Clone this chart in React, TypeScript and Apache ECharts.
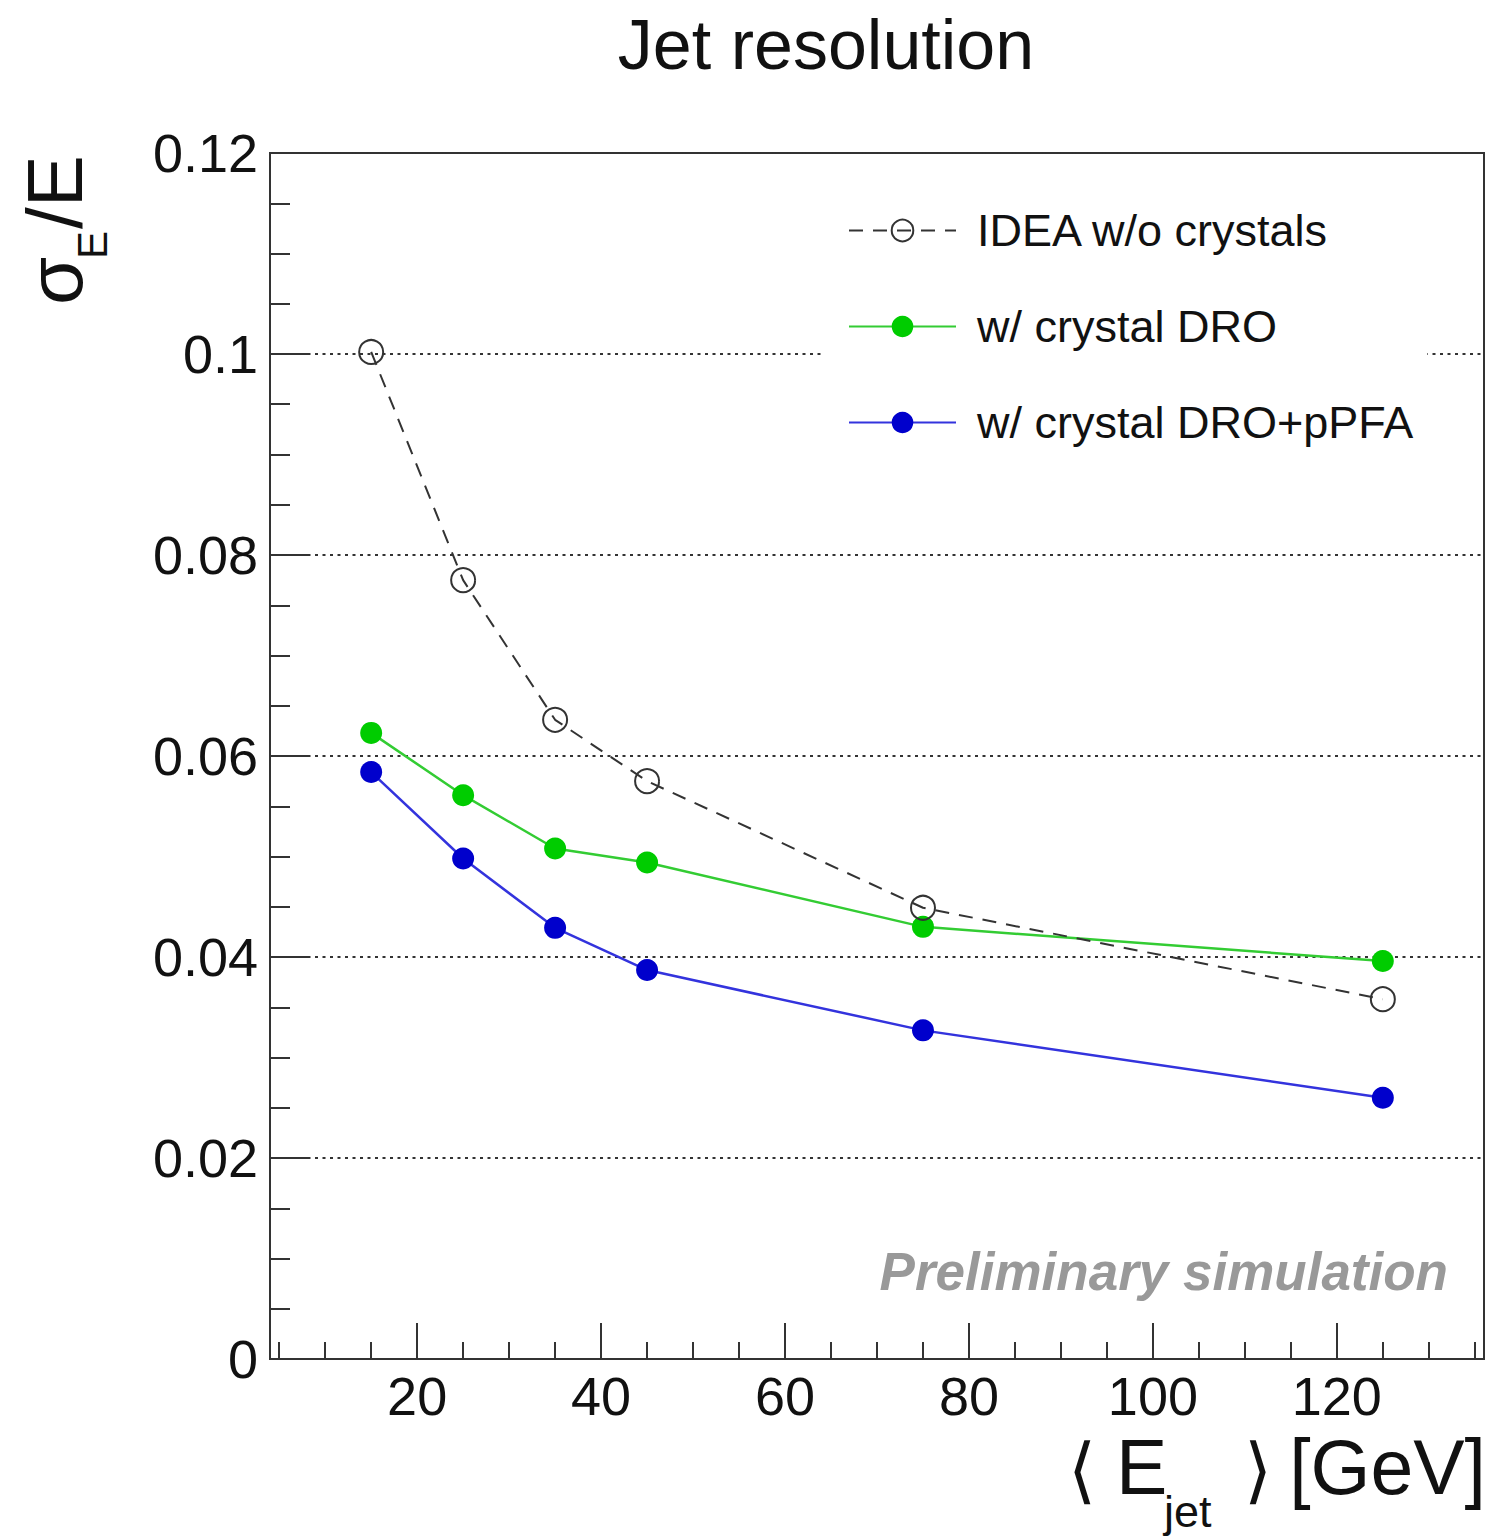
import React, { useEffect, useRef } from "react";
import * as echarts from "echarts";

// Mean jet energy points (GeV)
const jetEnergies = [15, 25, 35, 45, 75, 125];

// Relative energy resolution sigma_E / E
const ideaNoCrystals = [0.1002, 0.0775, 0.0636, 0.0575, 0.0449, 0.0358];
const crystalDro = [0.0623, 0.0561, 0.0508, 0.0494, 0.043, 0.0396];
const crystalDroPpfa = [0.0584, 0.0498, 0.0429, 0.0387, 0.0327, 0.026];

const seriesNames = ["IDEA w/o crystals", "w/ crystal DRO", "w/ crystal DRO+pPFA"];

// Axis ticks
const xMajorTicks = [20, 40, 60, 80, 100, 120];
const xMinorTicks = [
  5, 10, 15, 20, 25, 30, 35, 40, 45, 50, 55, 60, 65, 70,
  75, 80, 85, 90, 95, 100, 105, 110, 115, 120, 125, 130, 135,
];

const FONT = "'Liberation Sans', Arial, Helvetica, sans-serif";
const INK = "#111";
const FRAME = "#333";

const toPairs = (ys: number[]) => jetEnergies.map((x, i) => [x, ys[i]]);

export default function App() {
  const ref = useRef<HTMLDivElement>(null);

  useEffect(() => {
    if (!ref.current) return;
    const chart = echarts.init(ref.current, undefined, { renderer: "svg" });

    const xAxisBase = {
      type: "value" as const,
      min: 4,
      max: 136,
      position: "bottom" as const,
      splitLine: { show: false },
    };

    chart.setOption({
      animation: false,
      backgroundColor: "#fff",
      grid: {
        left: 270,
        top: 153,
        width: 1214,
        height: 1206,
        show: true,
        borderColor: FRAME,
        borderWidth: 2,
        backgroundColor: "transparent",
      },
      xAxis: [
        {
          ...xAxisBase,
          axisLine: { show: true, lineStyle: { color: FRAME, width: 2 } },
          axisTick: {
            show: true,
            inside: true,
            length: 36,
            customValues: xMajorTicks,
            lineStyle: { color: FRAME, width: 2 },
          },
          axisLabel: {
            show: true,
            customValues: xMajorTicks,
            margin: 10,
            fontSize: 54,
            fontFamily: FONT,
            color: INK,
          },
        },
        {
          ...xAxisBase,
          axisLine: { show: false },
          axisTick: {
            show: true,
            inside: true,
            length: 17,
            customValues: xMinorTicks,
            lineStyle: { color: FRAME, width: 2 },
          },
          axisLabel: { show: false },
        },
      ],
      yAxis: {
        type: "value",
        min: 0,
        max: 0.12,
        interval: 0.02,
        axisLine: { show: true, lineStyle: { color: FRAME, width: 2 } },
        axisTick: {
          show: true,
          inside: true,
          length: 38,
          lineStyle: { color: FRAME, width: 2 },
        },
        minorTick: {
          show: true,
          splitNumber: 4,
          length: 20,
          lineStyle: { color: FRAME, width: 2 },
        },
        splitLine: {
          show: true,
          lineStyle: { color: "#333", width: 2, type: [3, 4.5] },
        },
        axisLabel: {
          margin: 12,
          fontSize: 54,
          fontFamily: FONT,
          color: INK,
        },
      },
      legend: {
        data: seriesNames,
        orient: "vertical",
        left: 825,
        top: 190,
        padding: [18, 14, 18, 23],
        backgroundColor: "#fff",
        itemWidth: 107,
        itemHeight: 27,
        itemGap: 51,
        textStyle: {
          fontSize: 45,
          fontFamily: FONT,
          color: INK,
          padding: [0, 0, 0, 16],
        },
      },
      series: [
        {
          name: seriesNames[1],
          type: "line",
          data: toPairs(crystalDro),
          symbol: "circle",
          symbolSize: 22,
          itemStyle: { color: "#00cc00" },
          lineStyle: { color: "#33cc33", width: 2.5 },
          z: 3,
        },
        {
          name: seriesNames[2],
          type: "line",
          data: toPairs(crystalDroPpfa),
          symbol: "circle",
          symbolSize: 22,
          itemStyle: { color: "#0000cc" },
          lineStyle: { color: "#3333dd", width: 2.5 },
          z: 3,
        },
        {
          name: seriesNames[0],
          type: "line",
          data: toPairs(ideaNoCrystals),
          symbol: "circle",
          symbolSize: 24,
          itemStyle: {
            color: "rgba(255,255,255,0)",
            borderColor: "#333",
            borderWidth: 2,
          },
          lineStyle: { color: "#333", width: 2, type: [14, 10] },
          z: 4,
        },
      ],
      graphic: [
        {
          type: "text",
          x: 826,
          y: 45,
          z: 10,
          style: {
            text: "Jet resolution",
            fontSize: 70,
            fontFamily: FONT,
            fill: "#111",
            align: "center",
            verticalAlign: "middle",
          },
        },
        // Vertical axis title: sigma_E / E, reading bottom to top
        {
          type: "group",
          x: 55,
          y: 305,
          rotation: Math.PI / 2,
          z: 10,
          children: [
            {
              type: "text",
              x: 0,
              y: 0,
              style: {
                text: "σ",
                fontSize: 78,
                fontFamily: FONT,
                fill: "#111",
                align: "left",
                verticalAlign: "middle",
              },
            },
            {
              type: "text",
              x: 46,
              y: 37,
              style: {
                text: "E",
                fontSize: 42,
                fontFamily: FONT,
                fill: "#111",
                align: "left",
                verticalAlign: "middle",
              },
            },
            {
              type: "text",
              x: 76,
              y: 0,
              style: {
                text: "/E",
                fontSize: 78,
                fontFamily: FONT,
                fill: "#111",
                align: "left",
                verticalAlign: "middle",
              },
            },
          ],
        },
        // Horizontal axis title: < E_jet > [GeV]
        {
          type: "text",
          x: 1068,
          y: 1470,
          z: 10,
          style: {
            text: "⟨",
            fontSize: 72,
            fontFamily: "'DejaVu Sans', sans-serif",
            fill: "#111",
            align: "left",
            verticalAlign: "middle",
          },
        },
        {
          type: "text",
          x: 1116,
          y: 1467,
          z: 10,
          style: {
            text: "E",
            fontSize: 77,
            fontFamily: FONT,
            fill: "#111",
            align: "left",
            verticalAlign: "middle",
          },
        },
        {
          type: "text",
          x: 1164,
          y: 1511,
          z: 10,
          style: {
            text: "jet",
            fontSize: 45,
            fontFamily: FONT,
            fill: "#111",
            align: "left",
            verticalAlign: "middle",
          },
        },
        {
          type: "text",
          x: 1244,
          y: 1470,
          z: 10,
          style: {
            text: "⟩",
            fontSize: 72,
            fontFamily: "'DejaVu Sans', sans-serif",
            fill: "#111",
            align: "left",
            verticalAlign: "middle",
          },
        },
        {
          type: "text",
          x: 1486,
          y: 1467,
          z: 10,
          style: {
            text: "[GeV]",
            fontSize: 77,
            fontFamily: FONT,
            fill: "#111",
            align: "right",
            verticalAlign: "middle",
          },
        },
        {
          type: "text",
          x: 1448,
          y: 1271,
          z: 10,
          style: {
            text: "Preliminary simulation",
            fontSize: 53,
            fontFamily: FONT,
            fontWeight: "bold",
            fontStyle: "italic",
            fill: "#999",
            align: "right",
            verticalAlign: "middle",
          },
        },
      ],
    });

    return () => chart.dispose();
  }, []);

  return (
    <div
      ref={ref}
      style={{ position: "absolute", left: 0, top: 0, width: 1490, height: 1539 }}
    />
  );
}
